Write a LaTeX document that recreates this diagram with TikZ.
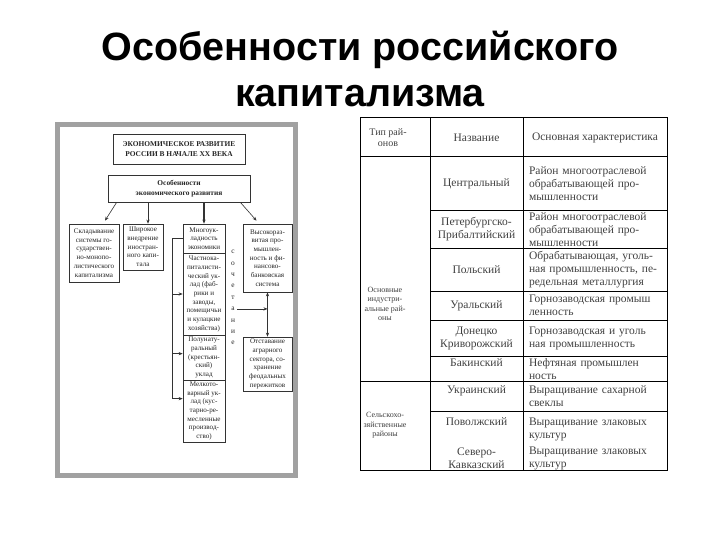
\documentclass[tikz,border=0pt]{standalone}
\usepackage{fontspec}
\setmainfont{Liberation Serif}
\newfontfamily\titlefont{Liberation Sans}
\usetikzlibrary{arrows.meta,calc}
\newcommand\jl[1]{\makebox[134pt][s]{#1}}
\begin{document}
\begin{tikzpicture}[x=1pt,y=-1pt,
  lbox/.style={draw=black!80, line width=0.7pt, inner sep=0pt, align=center,
    font=\fontsize{7.1}{8.7}\selectfont, text=black!85},
  hbox/.style={lbox, font=\fontsize{7.4}{10}\selectfont\bfseries},
  lline/.style={draw=black!80, line width=0.6pt},
  arr/.style={lline, -{Stealth[length=4pt,width=3.2pt]}},
  arrtwo/.style={lline, {Stealth[length=4pt,width=3.2pt]}-{Stealth[length=4pt,width=3.2pt]}},
  tline/.style={draw=black, line width=1pt},
  ttext/.style={font=\fontsize{11.5}{13}\selectfont, text=black!75, inner sep=0pt, align=center},
  ctext/.style={ttext, text width=134pt, align=left},
  stext/.style={font=\fontsize{8}{9.4}\selectfont, text=black!75, inner sep=0pt, align=center},
  ttl/.style={font=\titlefont\bfseries\fontsize{39.5}{46}\selectfont, anchor=base, inner sep=0pt}
]
\useasboundingbox (0,0) rectangle (720,540);

% title
\node[ttl] (t1) at (360,61) {Особенности российского};
\node[ttl] (t2) at (360,107) {капитализма};

% ---------- left scanned scheme ----------
\fill[black!37] (55,122) rectangle (298,478);
\fill[white] (60,127) rectangle (293,473);

\node[hbox, minimum width=132, minimum height=30] (top) at (179,149) {ЭКОНОМИЧЕСКОЕ РАЗВИТИЕ\\РОССИИ В НАЧАЛЕ XX ВЕКА};
\node[hbox, minimum width=142, minimum height=27] (ob) at (179,188.5) {Особенности\\экономического развития};

\node[lbox, minimum width=50, minimum height=58] (b1) at (94,253) {Складывание\\системы го-\\сударствен-\\но-монопо-\\листического\\капитализма};
\node[lbox, minimum width=40, minimum height=46] (b2) at (143,247) {Широкое\\внедрение\\иностран-\\ного капи-\\тала};
\node[lbox, minimum width=42, minimum height=29] (b3) at (204,238.5) {Многоук-\\ладность\\экономики};
\node[lbox, minimum width=42, minimum height=82] (b3a) at (204,294) {Частнока-\\питалисти-\\ческий ук-\\лад (фаб-\\рики и\\заводы,\\помещичьи\\и кулацкие\\хозяйства)};
\node[lbox, minimum width=42, minimum height=45] (b3b) at (204,357.5) {Полунату-\\ральный\\(крестьян-\\ский)\\уклад};
\node[lbox, minimum width=42, minimum height=62] (b3c) at (204,411) {Мелкото-\\варный ук-\\лад (кус-\\тарно-ре-\\месленные\\производ-\\ство)};
\node[lbox, minimum width=49, minimum height=68] (b4) at (267.5,258) {Высокораз-\\витая про-\\мышлен-\\ность и фи-\\нансово-\\банковская\\система};
\node[lbox, minimum width=49, minimum height=54] (b5) at (267.5,364) {Отставание\\аграрного\\сектора, со-\\хранение\\феодальных\\пережитков};
\node[font=\fontsize{7.4}{11.4}\selectfont, text=black!85, inner sep=0pt, align=center] (soch) at (233,297.5) {с\\о\\ч\\е\\т\\а\\н\\и\\е};

\draw[arr] ($(ob.south west)+(9,0)$) -- ($(b1.north)+(11,-3)$);
\coordinate (b2t) at ($(b2.north)+(5,0)$);
\draw[arr] (b2t |- ob.south) -- (b2t);
\draw[arr, line width=1.3pt] (b3.north |- ob.south) -- (b3.north);
\draw[arr] ($(ob.south east)+(-10,0)$) -- ($(b4.north)+(-11,-3)$);

\coordinate (brx) at ($(b3.west)+(-10,0)$);
\coordinate (b3bin) at ($(b3b.north west)+(0,19)$);
\coordinate (b3cin) at ($(b3c.north west)+(0,19)$);
\draw[lline] (b3.west) -- (brx) -- (brx |- b3cin);
\draw[arr] (brx |- b3a.west) -- (b3a.west);
\draw[arr] (brx |- b3bin) -- (b3bin);
\draw[arr] (brx |- b3cin) -- (b3cin);

\draw[arrtwo] (b4.south) -- (b5.north);
\coordinate (sa) at ($(soch.east)+(2,11.4)$);
\draw[arr] (sa) -- (sa -| b4.south);

% ---------- right table ----------
\draw[tline] (360,118) rectangle (667,470);
\draw[tline] (430,118) -- (430,470);
\draw[tline] (523,118) -- (523,470);
\draw[tline] (360,157) -- (667,157);
\draw[tline] (360,381) -- (667,381);
\foreach \yy in {211,248,291,320,356,411} {\draw[tline] (430,\yy) -- (667,\yy);}

\coordinate (col2) at (476.5,0);

\node[stext, font=\fontsize{10}{11}\selectfont] (h1) at (388,137.5) {Тип рай-\\онов};
\node[ttext] (h2) at (476.5,137.5) {Название};
\node[ttext] (h3) at (595,137.5) {Основная характеристика};

\node[stext] (k1) at (385,304) {Основные\\индустри-\\альные рай-\\оны};
\node[stext] (k2) at (385,425.5) {Сельскохо-\\зяйственные\\районы};

\node[ttext] (n1) at (476.5,184) {Центральный};
\node[ctext] (d1) at (596,184) {\jl{Район многоотраслевой}\\\jl{обрабатывающей про-}\\мышленности};

\node[ttext] (n2) at (476.5,229.5) {Петербургско-\\Прибалтийский};
\node[ctext] (d2) at (596,229.5) {\jl{Район многоотраслевой}\\\jl{обрабатывающей про-}\\мышленности};

\node[ttext] (n3) at (476.5,269.5) {Польский};
\node[ctext] (d3) at (596,269.5) {\jl{Обрабатывающая, уголь-}\\\jl{ная промышленность, пе-}\\редельная металлургия};

\node[ttext] (n4) at (476.5,305.5) {Уральский};
\node[ctext] (d4) at (596,305.5) {\jl{Горнозаводская промыш}\\ленность};

\node[ttext] (n5) at (476.5,338) {Донецко\\Криворожский};
\node[ctext] (d5) at (596,338) {\jl{Горнозаводская и уголь}\\ная промышленность};

\node[ctext] (d6) at (596,368.5) {\strut\jl{Нефтяная промышлен}\\ность};
\node[ttext, anchor=north] (n6) at (col2 |- d6.north) {\strut Бакинский};

\node[ctext] (d7) at (596,396) {\strut\jl{Выращивание сахарной}\\свеклы};
\node[ttext, anchor=north] (n7) at (col2 |- d7.north) {\strut Украинский};

\node[ctext] (d8) at (596,428.5) {\strut\jl{Выращивание злаковых}\\культур};
\node[ttext, anchor=north] (n8) at (col2 |- d8.north) {\strut Поволжский};

\node[ctext] (d9) at (596,458.5) {\jl{Выращивание злаковых}\\культур};
\node[ttext] (n9) at (476.5,458.5) {Северо-\\Кавказский};
\end{tikzpicture}
\end{document}
